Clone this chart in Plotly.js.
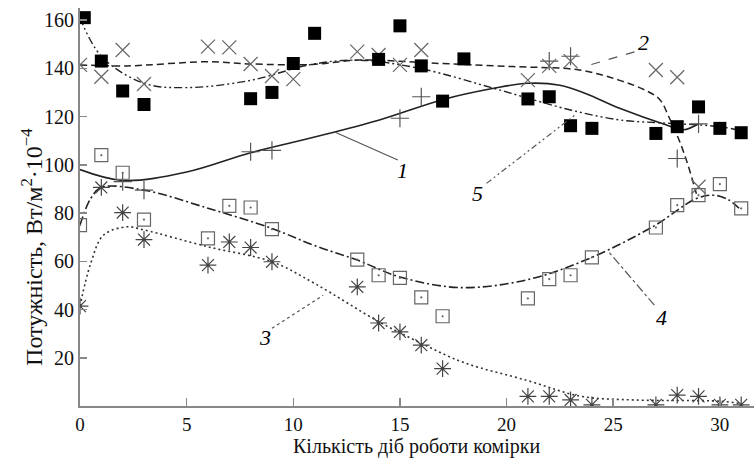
<!DOCTYPE html>
<html><head><meta charset="utf-8">
<script src="https://cdn.plot.ly/plotly-3.0.1.min.js"></script>
<style>body{margin:0;background:#fff}#chart{width:754px;height:460px}</style>
</head><body><div id="chart"></div>
<script>
// Markers: series 1 (+)
const s1X = [2, 3, 8, 9, 15, 16, 22, 23, 28, 29];
const s1Y = [93, 89.5, 105.4, 106, 119.3, 128.2, 143, 145, 102.6, 117];
// series 2 (x)
const s2X = [0, 1, 2, 3, 6, 7, 8, 9, 10, 13, 14, 15, 16, 21, 22, 23, 27, 28, 29];
const s2Y = [141.4, 136.5, 147.6, 133.5, 149, 148.7, 141.8, 136.8, 135.5, 146.9, 145.5, 141.4, 147.6, 135.1, 141, 143, 139.3, 136.3, 90.9];
// series 3 (asterisk)
const s3X = [0, 1, 2, 3, 6, 7, 8, 9, 13, 14, 15, 16, 17, 21, 22, 23, 24, 27, 28, 29, 30, 31];
const s3Y = [41.4, 90.6, 80.2, 69, 58.4, 68, 65.7, 59.8, 49.4, 34.4, 30.7, 25.2, 15.5, 4, 4, 2.5, 0.5, 0.5, 4.5, 4, 0.5, 0.5];
// series 4 (dotted square)
const s4X = [0, 1, 2, 3, 6, 7, 8, 9, 13, 14, 15, 16, 17, 21, 22, 23, 24, 27, 28, 29, 30, 31];
const s4Y = [75, 104, 96.7, 77.3, 69.5, 83, 82.3, 73.3, 60.7, 54.2, 53.1, 45, 37.2, 44.6, 52.6, 54.2, 61.6, 74, 83.3, 87.4, 92, 81.9];
// series 5 (black square)
const s5X = [0.2, 1, 2, 3, 8, 9, 10, 11, 14, 15, 16, 17, 18, 21, 22, 23, 24, 27, 28, 29, 30, 31];
const s5Y = [161, 143, 130.6, 125, 127.4, 130, 142, 154.5, 143.7, 157.6, 141, 126.4, 143.9, 127.3, 128.2, 116.2, 115.1, 113, 115.8, 124, 115.1, 113.3];

// Fitted curves
const c1X = [0, 2, 5, 8, 11, 14, 17, 19.4, 21, 22.5, 23.7, 25.3, 27.5, 28.3, 29];
const c1Y = [98, 93.5, 97, 105, 111.5, 118.5, 127, 131.7, 133.8, 133, 129.6, 123.4, 116.5, 114.5, 117];
const c2X = [0, 2.2, 5.9, 8, 10.9, 13.1, 16.9, 20.3, 23.4, 25.3, 26.6, 27.2, 27.6, 28.1, 28.5, 28.9];
const c2Y = [141.4, 141, 142.7, 141.8, 141.6, 143.4, 142, 140.7, 139.3, 135, 130.5, 126.9, 120, 110, 100, 88];
const c3X = [0, 0.5, 1.1, 2.2, 3, 6, 9, 11, 14, 16, 18, 21, 23.5, 26, 30, 31];
const c3Y = [41.4, 59, 70.8, 74.3, 73, 66, 59.8, 50.8, 35, 26, 18, 10.5, 4, 2.5, 2, 1];
const c4X = [0, 0.5, 1, 3, 6, 9, 11, 13, 15, 17.8, 20.9, 23.7, 26.85, 28.9, 29.7, 30.4, 30.9];
const c4Y = [75, 86, 90.6, 89.5, 82, 73.6, 66.5, 60.5, 53.5, 49.1, 52.2, 60.5, 74.3, 86, 87.4, 85.5, 82];
const c5X = [0, 1, 3, 5, 8, 10.8, 13, 15.9, 19.4, 21, 23, 25.3, 27.6, 30, 31.2];
const c5Y = [161, 145, 133.8, 132, 135, 141.5, 143.4, 140, 131.7, 127.6, 122.7, 118.6, 117.2, 115.8, 113.7];

// Curve labels
const labText = ["1", "2", "3", "4", "5"];
const labX = [15.13, 26.4, 8.67, 27.26, 18.64];
const labY = [97.8, 150.5, 28.5, 36.8, 88.2];
const leadFromX = [14.9, 26.0, 9.0, 26.93, 19.06];
const leadFromY = [102, 146.8, 32.2, 41.8, 92.3];
const leadToX = [11.94, 23.9, 11.4, 24.8, 23.2];
const leadToY = [113.6, 141.4, 45.9, 63.8, 120.6];
const leadDash = ["solid", "dash", "dot", "dashdot", "6px,3px,2px,3px,2px,3px"];

// Axis titles
const xTitle = "Кількість діб роботи комірки";
const yTitle = "Потужність, Вт/м<sup>2</sup>·10<sup>−4</sup>";

const SERIF = "'Liberation Serif', 'Times New Roman', Times, 'DejaVu Serif', serif";
const lineCol = "#222";
const traces = [
  {x: c1X, y: c1Y, mode: "lines", line: {color: lineCol, width: 1.6, shape: "spline", smoothing: 1}},
  {x: c2X, y: c2Y, mode: "lines", line: {color: lineCol, width: 1.5, dash: "7px,4px", shape: "spline", smoothing: 1}},
  {x: c3X, y: c3Y, mode: "lines", line: {color: "#333", width: 1.6, dash: "2px,3px", shape: "spline", smoothing: 1}},
  {x: c4X, y: c4Y, mode: "lines", line: {color: lineCol, width: 1.6, dash: "9px,3px,2px,3px", shape: "spline", smoothing: 1}},
  {x: c5X, y: c5Y, mode: "lines", line: {color: lineCol, width: 1.4, dash: "8px,3px,2px,3px,2px,3px", shape: "spline", smoothing: 1}},
  {x: s1X, y: s1Y, mode: "markers", marker: {symbol: "cross-thin-open", size: 13, color: "#555", line: {width: 1.2, color: "#555"}}},
  {x: s2X, y: s2Y, mode: "markers", marker: {symbol: "x-thin-open", size: 14, color: "#666", line: {width: 1.2, color: "#666"}}},
  {x: s3X, y: s3Y, mode: "markers", marker: {symbol: "asterisk-open", size: 14, color: "#444", line: {width: 1.2, color: "#444"}}},
  {x: s4X, y: s4Y, mode: "markers", marker: {symbol: "square-open-dot", size: 13, color: "#666", line: {width: 1.2, color: "#666"}}},
  {x: s5X, y: s5Y, mode: "markers", marker: {symbol: "square", size: 13, color: "#000"}}
];

const shapes = labText.map((t, i) => ({
  type: "line", xref: "x", yref: "y",
  x0: leadFromX[i], y0: leadFromY[i], x1: leadToX[i], y1: leadToY[i],
  line: {color: "#555", width: 1.2, dash: leadDash[i]}
}));
const annotations = labText.map((t, i) => ({
  x: labX[i], y: labY[i], xref: "x", yref: "y", text: "<i>" + t + "</i>", showarrow: false,
  font: {family: SERIF, size: 22, color: "#000"}
}));
annotations.push({
  xref: "paper", yref: "paper", x: 0.5, y: -0.102, xanchor: "center", yanchor: "middle",
  text: xTitle, showarrow: false, font: {family: SERIF, size: 20, color: "#111"}
});
annotations.push({
  xref: "paper", yref: "paper", x: -0.071, y: 0.4, xanchor: "center", yanchor: "middle",
  textangle: -90, text: yTitle, showarrow: false, font: {family: SERIF, size: 24, color: "#111"}
});

const font = {family: SERIF, size: 20, color: "#111"};
const layout = {
  width: 754, height: 460,
  margin: {l: 80, r: 0, t: 8, b: 54},
  paper_bgcolor: "#fff", plot_bgcolor: "#fff",
  showlegend: false,
  font: font,
  xaxis: {
    range: [0, 31.6], tickvals: [0, 5, 10, 15, 20, 25, 30],
    showgrid: false, zeroline: false, showline: true, linecolor: "#888", linewidth: 2,
    ticks: "inside", ticklen: 8, tickcolor: "#888", tickwidth: 1.5,
    tickfont: {family: SERIF, size: 19, color: "#111"}, automargin: false
  },
  yaxis: {
    range: [0, 165], tickvals: [20, 40, 60, 80, 100, 120, 140, 160],
    showgrid: false, zeroline: false, showline: true, linecolor: "#888", linewidth: 2,
    ticks: "inside", ticklen: 7, tickcolor: "#888", tickwidth: 1.5,
    tickfont: font, automargin: false
  },
  shapes: shapes,
  annotations: annotations
};
Plotly.newPlot("chart", traces, layout, {displayModeBar: false, staticPlot: true});
</script>
</body></html>
